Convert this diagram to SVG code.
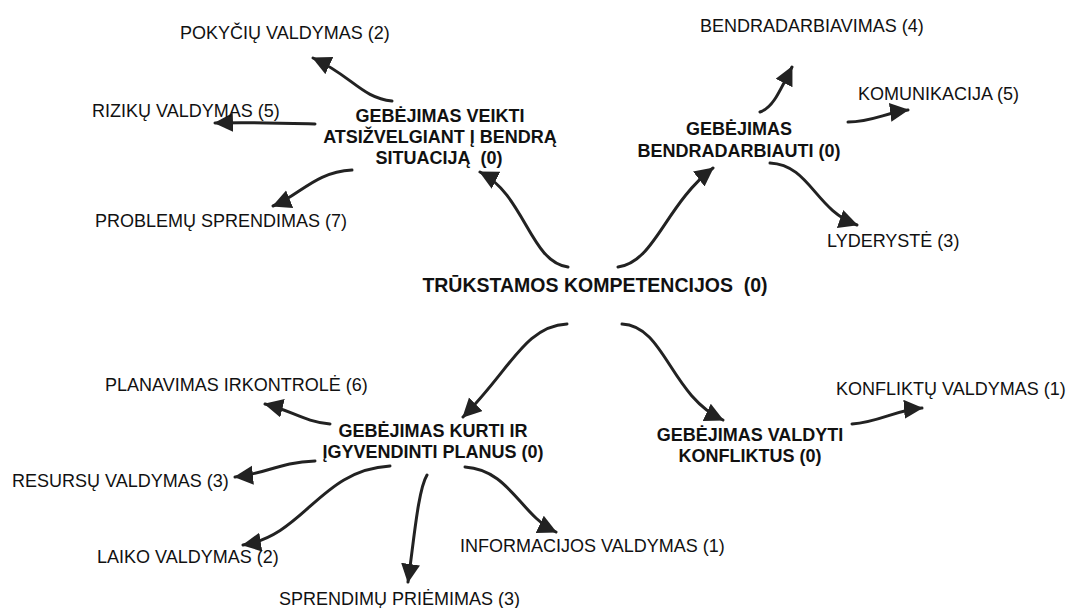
<svg xmlns="http://www.w3.org/2000/svg" width="1068" height="608" viewBox="0 0 1068 608">
<style>
.lbl{font-family:"Liberation Sans",Arial,sans-serif;font-size:18px;fill:#111;}
.node{font-family:"Liberation Sans",Arial,sans-serif;font-size:18px;font-weight:bold;fill:#111;text-anchor:middle;}
.main{font-family:"Liberation Sans",Arial,sans-serif;font-size:19.5px;font-weight:bold;fill:#111;text-anchor:middle;}
.conn{fill:none;stroke:#222;stroke-width:3;stroke-linecap:round;marker-end:url(#ah);}
</style>
<defs>
<marker id="ah" markerUnits="userSpaceOnUse" markerWidth="22" markerHeight="22" refX="18" refY="9.5" orient="auto">
<path d="M0,0 L19,9.5 L0,19 Z" fill="#222"/>
</marker>
</defs>
<g id="connectors">
<path class="conn" d="M 568 267 C 530 262, 525 195, 480 172"/>
<path class="conn" d="M 618 267 C 655 262, 665 205, 713 168"/>
<path class="conn" d="M 567 324 C 525 326, 510 370, 463 417"/>
<path class="conn" d="M 622 324 C 665 326, 670 395, 723 420"/>
<path class="conn" d="M 392 101 C 362 98, 352 76, 313 58"/>
<path class="conn" d="M 315 124 C 280 123, 250 122, 215 123"/>
<path class="conn" d="M 352 170 C 315 172, 300 195, 273 206"/>
<path class="conn" d="M 760 112 C 772 108, 778 95, 792 67"/>
<path class="conn" d="M 848 122 C 872 122, 885 113, 908 110"/>
<path class="conn" d="M 770 163 C 810 165, 815 210, 857 225"/>
<path class="conn" d="M 330 424 C 305 422, 290 410, 265 404"/>
<path class="conn" d="M 315 461 C 280 462, 265 474, 235 477"/>
<path class="conn" d="M 390 466 C 320 470, 305 535, 243 545"/>
<path class="conn" d="M 427 475 C 418 490, 414 540, 408 582"/>
<path class="conn" d="M 465 467 C 510 470, 520 515, 556 532"/>
<path class="conn" d="M 852 424 C 880 422, 895 410, 922 408"/>
</g>
<g id="n-center"><text class="main" x="595" y="292" xml:space="preserve">TRŪKSTAMOS KOMPETENCIJOS  (0)</text></g>
<g id="n-veikti"><text class="node" x="440" y="122">GEBĖJIMAS VEIKTI</text><text class="node" x="440" y="143">ATSIŽVELGIANT Į BENDRĄ</text><text class="node" x="439" y="164" xml:space="preserve">SITUACIJĄ  (0)</text></g>
<g id="n-bendradarbiauti"><text class="node" x="739" y="135">GEBĖJIMAS</text><text class="node" x="739" y="157">BENDRADARBIAUTI (0)</text></g>
<g id="n-kurti"><text class="node" x="433" y="437">GEBĖJIMAS KURTI IR</text><text class="node" x="433" y="458">ĮGYVENDINTI PLANUS (0)</text></g>
<g id="n-valdyti"><text class="node" x="750" y="441">GEBĖJIMAS VALDYTI</text><text class="node" x="750" y="462">KONFLIKTUS (0)</text></g>
<g id="n-pokyciu"><text class="lbl" x="180" y="39">POKYČIŲ VALDYMAS (2)</text></g>
<g id="n-riziku"><text class="lbl" x="92" y="117">RIZIKŲ VALDYMAS (5)</text></g>
<g id="n-problemu"><text class="lbl" x="95" y="227">PROBLEMŲ SPRENDIMAS (7)</text></g>
<g id="n-bendradarbiavimas"><text class="lbl" x="700" y="32">BENDRADARBIAVIMAS (4)</text></g>
<g id="n-komunikacija"><text class="lbl" x="858" y="100">KOMUNIKACIJA (5)</text></g>
<g id="n-lyderyste"><text class="lbl" x="827" y="247">LYDERYSTĖ (3)</text></g>
<g id="n-planavimas"><text class="lbl" x="105" y="391">PLANAVIMAS IRKONTROLĖ (6)</text></g>
<g id="n-resursu"><text class="lbl" x="12" y="487">RESURSŲ VALDYMAS (3)</text></g>
<g id="n-laiko"><text class="lbl" x="97" y="563">LAIKO VALDYMAS (2)</text></g>
<g id="n-sprendimu"><text class="lbl" x="279" y="605">SPRENDIMŲ PRIĖMIMAS (3)</text></g>
<g id="n-informacijos"><text class="lbl" x="460" y="552">INFORMACIJOS VALDYMAS (1)</text></g>
<g id="n-konfliktu"><text class="lbl" x="836" y="395">KONFLIKTŲ VALDYMAS (1)</text></g>
</svg>
